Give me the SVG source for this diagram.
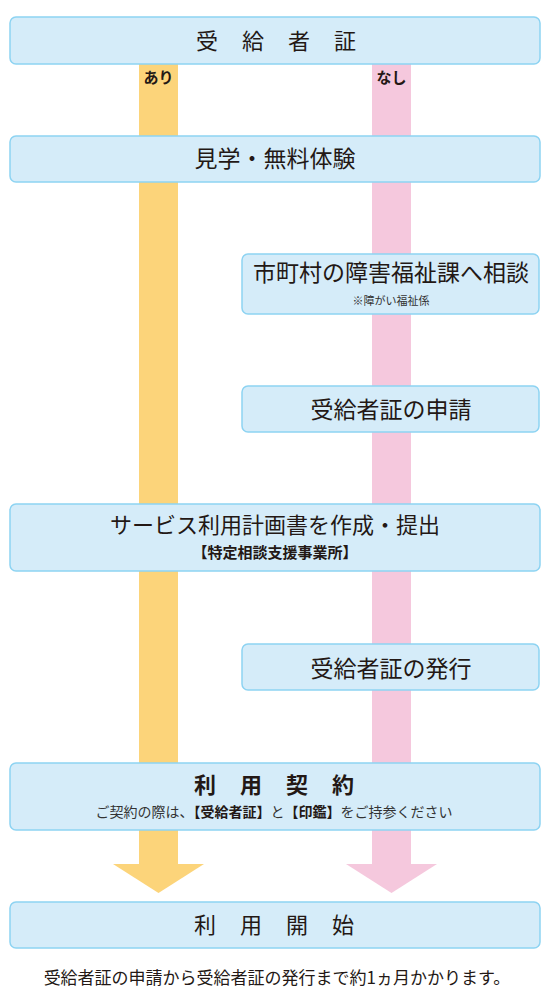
<svg xmlns="http://www.w3.org/2000/svg" width="550" height="1005" viewBox="0 0 550 1005">
<style>
.box{fill:#d5ecf9;stroke:#8dd3f2;stroke-width:1.5}
.t{font-family:"Noto Sans CJK JP","Noto Sans",sans-serif;fill:#231815;text-anchor:middle}
.h{font-size:23px;font-weight:400}
.sp{font-size:22px;letter-spacing:24px}
.s{fill:#333}
.b{font-weight:bold}
</style>
<rect width="550" height="1005" fill="#ffffff"/>
<g id="connectors">
<rect x="139" y="64" width="39" height="800" fill="#fcd47a"/>
<polygon points="113,864 204,864 158.5,893" fill="#fcd47a"/>
<rect x="372" y="64" width="39" height="800" fill="#f5c8dd"/>
<polygon points="346,864 437,864 391.5,893" fill="#f5c8dd"/>
<text class="t b" x="158.5" y="83" font-size="15">あり</text>
<text class="t b" x="391.5" y="83" font-size="15">なし</text>
</g>
<g id="n1"><rect class="box" x="10" y="17" width="530" height="47" rx="6"/><text class="t sp" x="288" y="49">受給者証</text></g>
<g id="n2"><rect class="box" x="10" y="136" width="530" height="46" rx="6"/><text class="t h" x="275" y="167">見学・無料体験</text></g>
<g id="n3"><rect class="box" x="242" y="254" width="297" height="60" rx="6"/><text class="t h" x="391" y="281">市町村の障害福祉課へ相談</text><text class="t s" x="391" y="305" font-size="11">※障がい福祉係</text></g>
<g id="n4"><rect class="box" x="242" y="386" width="297" height="46" rx="6"/><text class="t h" x="391" y="418">受給者証の申請</text></g>
<g id="n5"><rect class="box" x="10" y="504" width="530" height="67" rx="6"/><text class="t" x="275" y="533" font-size="22">サービス利用計画書を作成・提出</text><text class="t b" x="275" y="558" font-size="15">【特定相談支援事業所】</text></g>
<g id="n6"><rect class="box" x="242" y="644" width="297" height="46" rx="6"/><text class="t h" x="391" y="677">受給者証の発行</text></g>
<g id="n7"><rect class="box" x="10" y="763" width="530" height="67" rx="6"/><text class="t sp b" x="286" y="793">利用契約</text><text class="t s" x="274" y="817" font-size="14">ご契約の際は、<tspan class="b" fill="#231815">【受給者証】</tspan>と<tspan class="b" fill="#231815">【印鑑】</tspan>をご持参ください</text></g>
<g id="n8"><rect class="box" x="10" y="902" width="530" height="46" rx="6"/><text class="t sp" x="286" y="933">利用開始</text></g>
<g id="note"><text class="t" x="277" y="984" font-size="17" fill="#333">受給者証の申請から受給者証の発行まで約1ヵ月かかります。</text></g>
</svg>
